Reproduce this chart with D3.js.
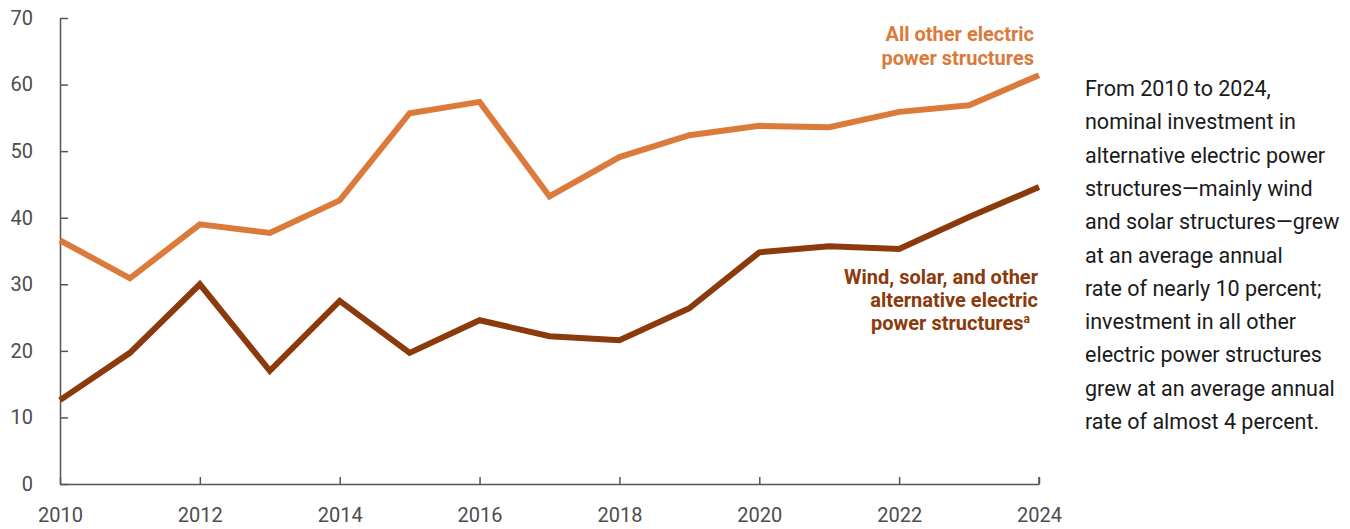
<!DOCTYPE html>
<html>
<head>
<meta charset="utf-8">
<script src="https://cdn.jsdelivr.net/npm/d3@7"></script>
<style>
  body { margin: 0; background: #fff; }
  svg text { font-family: Roboto, "Noto Sans", sans-serif; }
</style>
</head>
<body>
<svg id="chart" width="1350" height="529"></svg>
<script>
// chart data
const years = [2010, 2011, 2012, 2013, 2014, 2015, 2016, 2017, 2018, 2019, 2020, 2021, 2022, 2023, 2024];
const otherValues = [36.6, 30.9, 39.0, 37.7, 42.6, 55.7, 57.4, 43.2, 49.1, 52.4, 53.8, 53.6, 55.9, 56.9, 61.4];
const altValues = [12.6, 19.7, 30.0, 17.0, 27.5, 19.7, 24.6, 22.2, 21.6, 26.4, 34.8, 35.7, 35.3, 40.1, 44.6];
const yTicks = [0, 10, 20, 30, 40, 50, 60, 70];
const xTicks = [2010, 2012, 2014, 2016, 2018, 2020, 2022, 2024];
const otherLabel = ['All other electric', 'power structures'];
const altLabel = ['Wind, solar, and other', 'alternative electric', 'power structures'];
const note = [
  'From 2010 to 2024,',
  'nominal investment in',
  'alternative electric power',
  'structures\u2014mainly wind',
  'and solar structures\u2014grew',
  'at an average annual',
  'rate of nearly 10 percent;',
  'investment in all other',
  'electric power structures',
  'grew at an average annual',
  'rate of almost 4 percent.'
];

const margin = { top: 18, left: 60 };
const width = 979;
const height = 466;

const svg = d3.select('#chart');
const g = svg.append('g')
  .attr('transform', `translate(${margin.left},${margin.top})`);

const x = d3.scaleLinear().domain([2010, 2024]).range([0, width]);
const y = d3.scaleLinear().domain([0, 70]).range([height, 0]);

const axisColor = '#555';

// left axis, ticks pointing inwards
const yAxis = g.append('g')
  .call(d3.axisLeft(y).tickValues(yTicks).tickSizeInner(-8).tickSizeOuter(0).tickPadding(27));
yAxis.select('.domain').attr('stroke', axisColor).attr('stroke-width', 1.5);
yAxis.selectAll('.tick line').attr('stroke', axisColor).attr('stroke-width', 1.5);
yAxis.selectAll('.tick text')
  .attr('fill', '#4d4d4d')
  .style('font-size', '20px');

// bottom axis, ticks pointing up
const xAxis = g.append('g')
  .attr('transform', `translate(0,${height})`)
  .call(d3.axisBottom(x).tickValues(xTicks).tickFormat(d3.format('d')).tickSizeInner(-7).tickSizeOuter(0).tickPadding(24));
xAxis.select('.domain').attr('stroke', axisColor).attr('stroke-width', 1.5);
xAxis.selectAll('.tick line').attr('stroke', axisColor).attr('stroke-width', 1.5);
xAxis.selectAll('.tick text')
  .attr('fill', '#4d4d4d')
  .style('font-size', '20px');
// right end tick at 2024
xAxis.append('line')
  .attr('x1', x(2024)).attr('x2', x(2024))
  .attr('y1', 0).attr('y2', -7)
  .attr('stroke', axisColor).attr('stroke-width', 1.5);

const line = d3.line()
  .x((d, i) => x(years[i]))
  .y(d => y(d));

const orange = '#db7a3b';
const brown = '#8b3a0c';

g.append('path')
  .datum(otherValues)
  .attr('d', line)
  .attr('fill', 'none')
  .attr('stroke', orange)
  .attr('stroke-width', 6)
  .attr('stroke-linejoin', 'miter');

g.append('path')
  .datum(altValues)
  .attr('d', line)
  .attr('fill', 'none')
  .attr('stroke', brown)
  .attr('stroke-width', 6)
  .attr('stroke-linejoin', 'miter');

// series labels
g.append('text')
  .attr('x', 974)
  .attr('y', 23)
  .attr('text-anchor', 'end')
  .attr('fill', orange)
  .style('font-size', '20px')
  .style('font-weight', 'bold')
  .selectAll('tspan')
  .data(otherLabel)
  .join('tspan')
  .attr('x', 974)
  .attr('dy', (d, i) => i ? 24 : 0)
  .text(d => d);

const altText = g.append('text')
  .attr('x', 978)
  .attr('y', 266)
  .attr('text-anchor', 'end')
  .attr('fill', brown)
  .style('font-size', '20px')
  .style('font-weight', 'bold');
altText.selectAll('tspan')
  .data(altLabel)
  .join('tspan')
  .attr('x', (d, i) => i === 2 ? 970 : 978)
  .attr('dy', (d, i) => i ? 23 : 0)
  .text(d => d);
altText.append('tspan')
  .attr('dy', -7)
  .style('font-size', '12px')
  .text('a');

// side note
svg.append('text')
  .attr('x', 1085)
  .attr('y', 96)
  .attr('fill', '#1a1a1a')
  .style('font-size', '21.5px')
  .selectAll('tspan')
  .data(note)
  .join('tspan')
  .attr('x', 1085)
  .attr('dy', (d, i) => i ? 33.3 : 0)
  .text(d => d);
</script>
</body>
</html>
